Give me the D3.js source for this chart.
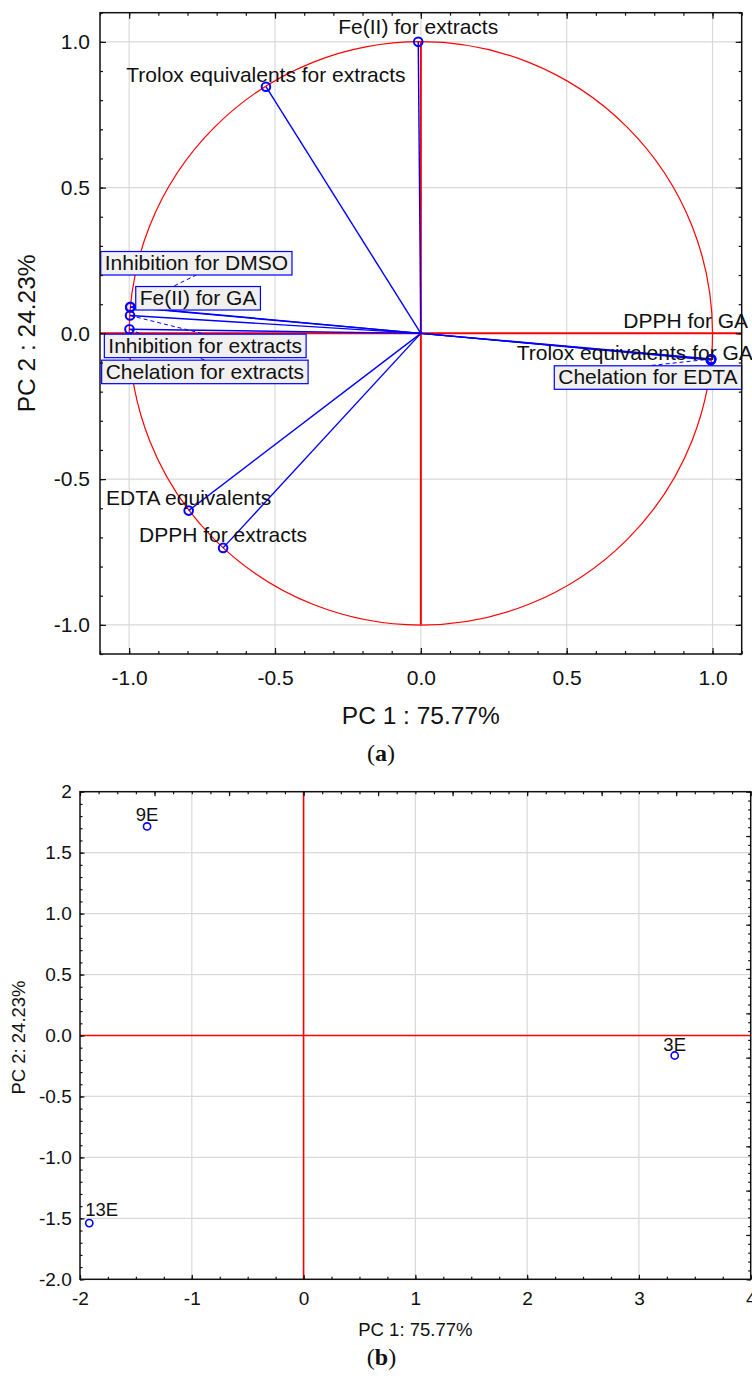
<!DOCTYPE html>
<html><head><meta charset="utf-8">
<script src="https://cdn.jsdelivr.net/npm/d3@7"></script>
<style>
body{margin:0;background:#fff;}
svg{display:block;font-family:"Liberation Sans",Arial,sans-serif;}
</style></head><body>
<svg id="chart" width="752" height="1381"></svg>
<script>
// ---------- Panel (a): variable loadings ----------
const loadingNames = ["Fe(II) for extracts","Trolox equivalents for extracts","Inhibition for DMSO","Fe(II) for GA","Inhibition for extracts","Chelation for extracts","EDTA equivalents","DPPH for extracts","DPPH for GA","Trolox equivalents for GA","Chelation for EDTA"];
const loadingPC1 = [-0.009,-0.531,-0.996,-0.996,-0.997,-0.999,-0.796,-0.678,0.995,0.994,0.996];
const loadingPC2 = [1.0,0.846,0.089,0.091,0.061,0.014,-0.608,-0.736,-0.090,-0.092,-0.088];
const axisTicksA = [-1.0,-0.5,0.0,0.5,1.0];
const axisTickLabelsA = ["-1.0","-0.5","0.0","0.5","1.0"];
const xTitleA = "PC 1 : 75.77%";
const yTitleA = "PC 2 : 24.23%";

// ---------- Panel (b): sample scores ----------
const sampleNames = ["9E","3E","13E"];
const scorePC1 = [-1.40,3.32,-1.917];
const scorePC2 = [1.715,-0.164,-1.539];
const xTicksB = [-2,-1,0,1,2,3,4];
const xTickLabelsB = ["-2","-1","0","1","2","3","4"];
const yTicksB = [2,1.5,1,0.5,0,-0.5,-1,-1.5,-2];
const yTickLabelsB = ["2","1.5","1.0","0.5","0.0","-0.5","-1.0","-1.5","-2.0"];
const xTitleB = "PC 1: 75.77%";
const yTitleB = "PC 2: 24.23%";

// ---------- label placement (layout only, pixel offsets from the point) ----------
const labelPlacementA = [
  {dx:0, dy:-8, anchor:"middle", boxed:false},
  {dx:0, dy:-5, anchor:"middle", boxed:false},
  {dx:-25.6, dy:-37.4, anchor:"start", boxed:true},
  {dx:9.4, dy:-1.8, anchor:"start", boxed:true},
  {dx:-21.7, dy:37.1, anchor:"start", boxed:true},
  {dx:-23.8, dy:49.4, anchor:"start", boxed:true},
  {dx:0, dy:-5.5, anchor:"middle", boxed:false},
  {dx:0, dy:-6, anchor:"middle", boxed:false},
  {dx:-87.8, dy:-31.6, anchor:"start", boxed:false},
  {dx:-194.1, dy:-0.2, anchor:"start", boxed:false},
  {dx:-153.1, dy:25.3, anchor:"start", boxed:true}
];
const labelPlacementB = [
  {dx:0, dy:-5, anchor:"middle"},
  {dx:0, dy:-4, anchor:"middle"},
  {dx:-4, dy:-7, anchor:"start"}
];

const RED = "#ff0000", BLUE = "#0000ff", GRID = "#d9d9d9", INK = "#111";
const svg = d3.select("#chart");

function styleAxis(g, fs){
  g.select(".domain").remove();
  g.attr("font-size", fs).attr("font-family", null).attr("color", INK);
  g.selectAll(".tick line").attr("stroke-width", 1.2);
}

// =================== PANEL A ===================
(function(){
  const L=100, R=741.7, T=12.7, B=654;
  const x = d3.scaleLinear().domain([-1.1,1.1]).range([L,R]);
  const y = d3.scaleLinear().domain([-1.1,1.1]).range([B,T]);
  const g = svg.append("g");

  // grid
  g.append("g").selectAll("line").data(axisTicksA).join("line")
    .attr("x1",d=>x(d)).attr("x2",d=>x(d)).attr("y1",T).attr("y2",B)
    .attr("stroke",GRID).attr("stroke-width",1.2);
  g.append("g").selectAll("line").data(axisTicksA).join("line")
    .attr("y1",d=>y(d)).attr("y2",d=>y(d)).attr("x1",L).attr("x2",R)
    .attr("stroke",GRID).attr("stroke-width",1.2);

  // unit circle
  g.append("circle").attr("cx",x(0)).attr("cy",y(0)).attr("r",x(1)-x(0))
    .attr("fill","none").attr("stroke",RED).attr("stroke-width",1.2);
  // red axes
  g.append("line").attr("x1",x(0)).attr("x2",x(0)).attr("y1",y(1)).attr("y2",y(-1))
    .attr("stroke",RED).attr("stroke-width",2);
  g.append("line").attr("x1",x(-1.1)).attr("x2",x(1.1)).attr("y1",y(0)).attr("y2",y(0))
    .attr("stroke",RED).attr("stroke-width",2);

  const pts = loadingNames.map((n,i)=>({name:n, px:x(loadingPC1[i]), py:y(loadingPC2[i]), lp:labelPlacementA[i]}));

  // vectors
  g.append("g").selectAll("line").data(pts).join("line")
    .attr("x1",x(0)).attr("y1",y(0)).attr("x2",d=>d.px).attr("y2",d=>d.py)
    .attr("stroke",BLUE).attr("stroke-width",1.4);

  // labels (measure first)
  const lab = g.append("g").attr("font-size",21).attr("fill",INK);
  const connG = lab.append("g");
  const circG = lab.append("g");
  pts.forEach(d=>{
    const gg = lab.append("g");
    const t = gg.append("text").attr("x",d.px+d.lp.dx).attr("y",d.py+d.lp.dy)
      .attr("text-anchor",d.lp.anchor).text(d.name);
    if(d.lp.boxed){
      const bb = t.node().getBBox();
      const by = d.py+d.lp.dy;
      const rx = bb.x-4, rw = bb.width+8, ry = by-18.5, rh = 23.5;
      gg.insert("rect","text").attr("x",rx).attr("y",ry).attr("width",rw).attr("height",rh)
        .attr("fill","#f0f0f0").attr("stroke",BLUE).attr("stroke-width",1.2);
      let tx=null, ty=null;
      if(ry+rh < d.py){ tx = rx+rw/2; ty = ry+rh; }
      else if(ry > d.py){ tx = rx+rw/2; ty = ry; }
      if(tx!==null){
        connG.append("line").attr("x1",d.px).attr("y1",d.py).attr("x2",tx).attr("y2",ty)
          .attr("stroke",BLUE).attr("stroke-width",1).attr("stroke-dasharray","4,3");
      }
    }
  });
  circG.selectAll("circle").data(pts).join("circle")
    .attr("cx",d=>d.px).attr("cy",d=>d.py).attr("r",4.3)
    .attr("fill","none").attr("stroke",BLUE).attr("stroke-width",2);
  // bring label groups after circles for proper overlap of boxes
  lab.selectAll(":scope > g").filter((d,i)=>i>1).raise();

  // frame
  g.append("rect").attr("x",L).attr("y",T).attr("width",R-L).attr("height",B-T)
    .attr("fill","none").attr("stroke",INK).attr("stroke-width",1.5);

  // ticks
  const minor = d3.range(-11,12).map(i=>i/10);
  const fmt = (d)=>{ const i = axisTicksA.findIndex(v=>Math.abs(v-d)<1e-9); return i>=0?axisTickLabelsA[i]:""; };
  g.append("g").attr("transform",`translate(0,${B})`)
    .call(d3.axisBottom(x).tickValues(minor).tickSize(-3).tickFormat(""))
    .call(a=>styleAxis(a,21));
  g.append("g").attr("transform",`translate(0,${B})`)
    .call(d3.axisBottom(x).tickValues(axisTicksA).tickSize(-6).tickPadding(16).tickFormat(fmt))
    .call(a=>styleAxis(a,21));
  g.append("g").attr("transform",`translate(0,${T})`)
    .call(d3.axisTop(x).tickValues(minor).tickSize(-3).tickFormat(""))
    .call(a=>styleAxis(a,21));
  g.append("g").attr("transform",`translate(0,${T})`)
    .call(d3.axisTop(x).tickValues(axisTicksA).tickSize(-6).tickFormat(""))
    .call(a=>styleAxis(a,21));
  g.append("g").attr("transform",`translate(${L},0)`)
    .call(d3.axisLeft(y).tickValues(minor).tickSize(-3).tickFormat(""))
    .call(a=>styleAxis(a,21));
  g.append("g").attr("transform",`translate(${L},0)`)
    .call(d3.axisLeft(y).tickValues(axisTicksA).tickSize(-6).tickPadding(10).tickFormat(fmt))
    .call(a=>styleAxis(a,21));
  g.append("g").attr("transform",`translate(${R},0)`)
    .call(d3.axisRight(y).tickValues(minor).tickSize(-3).tickFormat(""))
    .call(a=>styleAxis(a,21));
  g.append("g").attr("transform",`translate(${R},0)`)
    .call(d3.axisRight(y).tickValues(axisTicksA).tickSize(-6).tickFormat(""))
    .call(a=>styleAxis(a,21));

  // titles
  g.append("text").attr("x",(L+R)/2).attr("y",724).attr("text-anchor","middle")
    .attr("font-size",24.5).attr("fill",INK).text(xTitleA);
  g.append("text").attr("transform",`translate(35,${(T+B)/2}) rotate(-90)`).attr("text-anchor","middle")
    .attr("font-size",24.5).attr("fill",INK).text(yTitleA);
  const pa = g.append("text").attr("x",381).attr("y",761).attr("text-anchor","middle")
    .attr("font-family","'Liberation Serif','Times New Roman',serif").attr("font-size",24).attr("fill",INK);
  pa.append("tspan").text("(");
  pa.append("tspan").attr("font-weight","bold").text("a");
  pa.append("tspan").text(")");
})();

// =================== PANEL B ===================
(function(){
  const L=80, R=750.7, T=791.7, B=1279.3;
  const x = d3.scaleLinear().domain([-2,4]).range([L,R]);
  const y = d3.scaleLinear().domain([-2,2]).range([B,T]);
  const xTop = d3.scaleLinear().domain([0,9]).range([L,R]);
  const yRight = d3.scaleLinear().domain([0,11]).range([B,T]);
  const g = svg.append("g");

  g.append("g").selectAll("line").data(xTicksB.slice(1,-1)).join("line")
    .attr("x1",d=>x(d)).attr("x2",d=>x(d)).attr("y1",T).attr("y2",B)
    .attr("stroke",GRID).attr("stroke-width",1.2);
  g.append("g").selectAll("line").data(yTicksB.slice(1,-1)).join("line")
    .attr("y1",d=>y(d)).attr("y2",d=>y(d)).attr("x1",L).attr("x2",R)
    .attr("stroke",GRID).attr("stroke-width",1.2);

  g.append("line").attr("x1",x(0)).attr("x2",x(0)).attr("y1",T).attr("y2",B)
    .attr("stroke",RED).attr("stroke-width",1.6);
  g.append("line").attr("x1",L).attr("x2",R).attr("y1",y(0)).attr("y2",y(0))
    .attr("stroke",RED).attr("stroke-width",1.6);

  const pts = sampleNames.map((n,i)=>({name:n, px:x(scorePC1[i]), py:y(scorePC2[i]), lp:labelPlacementB[i]}));
  g.append("g").selectAll("circle").data(pts).join("circle")
    .attr("cx",d=>d.px).attr("cy",d=>d.py).attr("r",3.6)
    .attr("fill","none").attr("stroke",BLUE).attr("stroke-width",1.6);
  g.append("g").attr("font-size",18.5).attr("fill",INK).selectAll("text").data(pts).join("text")
    .attr("x",d=>d.px+d.lp.dx).attr("y",d=>d.py+d.lp.dy).attr("text-anchor",d=>d.lp.anchor).text(d=>d.name);

  g.append("rect").attr("x",L).attr("y",T).attr("width",R-L).attr("height",B-T)
    .attr("fill","none").attr("stroke",INK).attr("stroke-width",1.5);

  const fmtX = d=>{ const i = xTicksB.indexOf(d); return i>=0?xTickLabelsB[i]:""; };
  const fmtY = d=>{ const i = yTicksB.findIndex(v=>Math.abs(v-d)<1e-9); return i>=0?yTickLabelsB[i]:""; };
  // bottom
  g.append("g").attr("transform",`translate(0,${B})`)
    .call(d3.axisBottom(x).tickValues(d3.range(-8,17).map(i=>i/4)).tickSize(-2.5).tickFormat(""))
    .call(a=>styleAxis(a,19));
  g.append("g").attr("transform",`translate(0,${B})`)
    .call(d3.axisBottom(x).tickValues(xTicksB).tickSize(-4.5).tickPadding(12.2).tickFormat(fmtX))
    .call(a=>styleAxis(a,19));
  // left
  g.append("g").attr("transform",`translate(${L},0)`)
    .call(d3.axisLeft(y).tickValues(d3.range(-20,21).map(i=>i/10)).tickSize(-2.5).tickFormat(""))
    .call(a=>styleAxis(a,19));
  g.append("g").attr("transform",`translate(${L},0)`)
    .call(d3.axisLeft(y).tickValues(yTicksB).tickSize(-4.5).tickPadding(8.3).tickFormat(fmtY))
    .call(a=>styleAxis(a,19));
  // top (secondary scale)
  g.append("g").attr("transform",`translate(0,${T})`)
    .call(d3.axisTop(xTop).tickValues(d3.range(0,37).map(i=>i/4)).tickSize(-2.5).tickFormat(""))
    .call(a=>styleAxis(a,19));
  g.append("g").attr("transform",`translate(0,${T})`)
    .call(d3.axisTop(xTop).tickValues(d3.range(0,10)).tickSize(-4.5).tickFormat(""))
    .call(a=>styleAxis(a,19));
  // right (secondary scale)
  g.append("g").attr("transform",`translate(${R},0)`)
    .call(d3.axisRight(yRight).tickValues(d3.range(0,56).map(i=>i/5)).tickSize(-2.5).tickFormat(""))
    .call(a=>styleAxis(a,19));
  g.append("g").attr("transform",`translate(${R},0)`)
    .call(d3.axisRight(yRight).tickValues(d3.range(0,12)).tickSize(-4.5).tickFormat(""))
    .call(a=>styleAxis(a,19));

  g.append("text").attr("x",(L+R)/2).attr("y",1336).attr("text-anchor","middle")
    .attr("font-size",18.5).attr("fill",INK).text(xTitleB);
  g.append("text").attr("transform",`translate(25,${(T+B)/2+2}) rotate(-90)`).attr("text-anchor","middle")
    .attr("font-size",18.5).attr("fill",INK).text(yTitleB);
  const pb = g.append("text").attr("x",381.5).attr("y",1365).attr("text-anchor","middle")
    .attr("font-family","'Liberation Serif','Times New Roman',serif").attr("font-size",24).attr("fill",INK);
  pb.append("tspan").text("(");
  pb.append("tspan").attr("font-weight","bold").text("b");
  pb.append("tspan").text(")");
})();
</script>
</body></html>
